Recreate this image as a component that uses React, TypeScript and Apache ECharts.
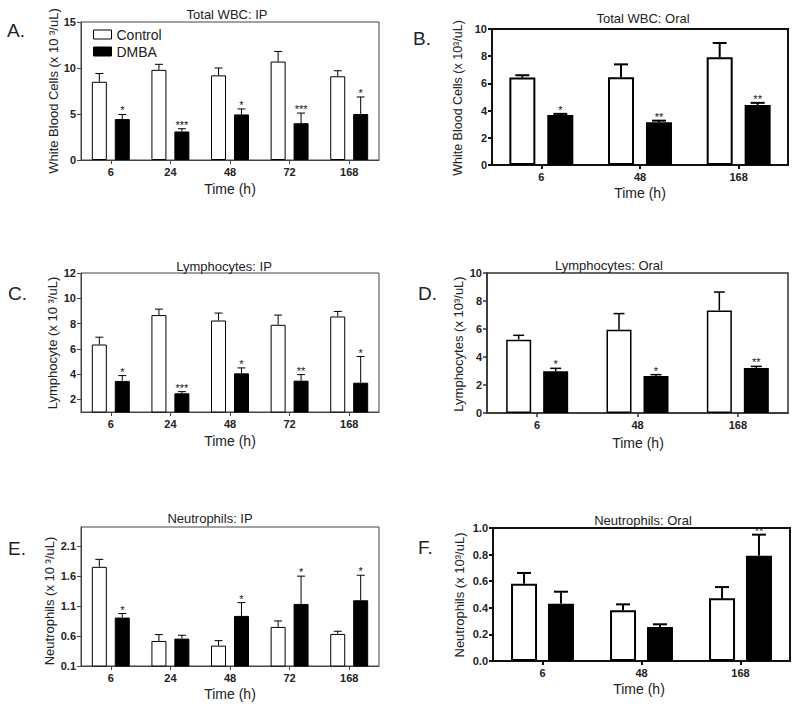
import React, { useEffect, useRef } from 'react';
import * as echarts from 'echarts';

// ---------- categories ----------
const catsIP = ['6', '24', '48', '72', '168'];
const catsOral = ['6', '48', '168'];

// ---------- A. Total WBC: IP ----------
const wbcIpControl = [8.5, 9.8, 9.2, 10.7, 9.1];
const wbcIpControlErr = [9.4, 10.4, 10.0, 11.8, 9.7];
const wbcIpDmba = [4.45, 3.1, 4.95, 4.0, 5.0];
const wbcIpDmbaErr = [4.95, 3.4, 5.55, 5.1, 6.85];
const wbcIpStars = ['*', '***', '*', '***', '*'];
const wbcIpTicks = [0, 5, 10, 15];

// ---------- B. Total WBC: Oral ----------
const wbcOralControl = [6.43, 6.46, 7.93];
const wbcOralControlErr = [6.6, 7.4, 8.97];
const wbcOralDmba = [3.68, 3.14, 4.42];
const wbcOralDmbaErr = [3.76, 3.26, 4.57];
const wbcOralStars = ['*', '**', '**'];
const wbcOralTicks = [0, 2, 4, 6, 8, 10];

// ---------- C. Lymphocytes: IP ----------
const lymIpControl = [6.34, 8.67, 8.24, 7.9, 8.56];
const lymIpControlErr = [6.92, 9.14, 8.83, 8.67, 8.96];
const lymIpDmba = [3.46, 2.48, 4.06, 3.48, 3.32];
const lymIpDmbaErr = [3.88, 2.61, 4.49, 3.96, 5.39];
const lymIpStars = ['*', '***', '*', '**', '*'];
const lymIpTicks = [2, 4, 6, 8, 10, 12];

// ---------- D. Lymphocytes: Oral ----------
const lymOralControl = [5.24, 5.95, 7.33];
const lymOralControlErr = [5.55, 7.1, 8.64];
const lymOralDmba = [2.98, 2.64, 3.21];
const lymOralDmbaErr = [3.19, 2.74, 3.33];
const lymOralStars = ['*', '*', '**'];
const lymOralTicks = [0, 2, 4, 6, 8, 10];

// ---------- E. Neutrophils: IP ----------
const neuIpControl = [1.755, 0.518, 0.44, 0.752, 0.635];
const neuIpControlErr = [1.88, 0.624, 0.523, 0.852, 0.68];
const neuIpDmba = [0.908, 0.557, 0.936, 1.136, 1.197];
const neuIpDmbaErr = [0.975, 0.613, 1.158, 1.6, 1.615];
const neuIpStars = ['*', '', '*', '*', '*'];
const neuIpTicks = [0.1, 0.6, 1.1, 1.6, 2.1];

// ---------- F. Neutrophils: Oral ----------
const neuOralControl = [0.581, 0.381, 0.471];
const neuOralControlErr = [0.662, 0.426, 0.556];
const neuOralDmba = [0.431, 0.256, 0.792];
const neuOralDmbaErr = [0.521, 0.276, 0.95];
const neuOralStars = ['', '', '**'];
const neuOralTicks = [0, 0.2, 0.4, 0.6, 0.8, 1.0];

const FONT = '"Liberation Sans", Arial, Helvetica, sans-serif';
const TXT = '#222';

interface Panel {
  letter: string;
  title: string;
  yName: string;
  cats: string[];
  control: number[];
  controlErr: number[];
  dmba: number[];
  dmbaErr: number[];
  stars: string[];
  ticks: number[];
  yMin: number;
  yMax: number;
  decimals: number;
  grid: { left: number; top: number; width: number; height: number };
  barWidth: number;
  gapPct: number;
  capW: number;
  barBorder: number;
  errLW: number;
  boxColor: string;
  boxW: number;
  titlePos: [number, number];
  letterPos: [number, number];
  yLabPos: [number, number];
  yLabSize: number;
  xLabPos: [number, number];
}

const thin = { barWidth: 15, gapPct: 0.53, capW: 8, barBorder: 1, errLW: 1, boxColor: '#444', boxW: 1 };

const panels: Panel[] = [
  {
    letter: 'A.', title: 'Total WBC: IP', yName: 'White Blood Cells (x 10 \u00B3/uL)',
    cats: catsIP, control: wbcIpControl, controlErr: wbcIpControlErr, dmba: wbcIpDmba, dmbaErr: wbcIpDmbaErr,
    stars: wbcIpStars, ticks: wbcIpTicks, yMin: 0, yMax: 15, decimals: 0,
    grid: { left: 81, top: 22, width: 298, height: 138 }, ...thin,
    titlePos: [227, 14.5], letterPos: [7, 30], yLabPos: [53, 91], yLabSize: 13, xLabPos: [230, 188.5],
  },
  {
    letter: 'B.', title: 'Total WBC: Oral', yName: 'White Blood Cells (x 10\u00B3/uL)',
    cats: catsOral, control: wbcOralControl, controlErr: wbcOralControlErr, dmba: wbcOralDmba, dmbaErr: wbcOralDmbaErr,
    stars: wbcOralStars, ticks: wbcOralTicks, yMin: 0, yMax: 10, decimals: 0,
    grid: { left: 492, top: 29, width: 296, height: 136 },
    barWidth: 26, gapPct: 0.46, capW: 14, barBorder: 2, errLW: 2, boxColor: '#111', boxW: 2,
    titlePos: [643, 18], letterPos: [413, 38], yLabPos: [458, 98], yLabSize: 12.5, xLabPos: [640, 193],
  },
  {
    letter: 'C.', title: 'Lymphocytes: IP', yName: 'Lymphocyte (x 10 \u00B3/uL)',
    cats: catsIP, control: lymIpControl, controlErr: lymIpControlErr, dmba: lymIpDmba, dmbaErr: lymIpDmbaErr,
    stars: lymIpStars, ticks: lymIpTicks, yMin: 1, yMax: 12, decimals: 0,
    grid: { left: 81, top: 273, width: 298, height: 139 }, ...thin,
    titlePos: [224, 266], letterPos: [8, 293], yLabPos: [52, 343], yLabSize: 13, xLabPos: [230, 440.5],
  },
  {
    letter: 'D.', title: 'Lymphocytes: Oral', yName: 'Lymphocytes (x 10\u00B3/uL)',
    cats: catsOral, control: lymOralControl, controlErr: lymOralControlErr, dmba: lymOralDmba, dmbaErr: lymOralDmbaErr,
    stars: lymOralStars, ticks: lymOralTicks, yMin: 0, yMax: 10, decimals: 0,
    grid: { left: 487, top: 273, width: 301, height: 140 },
    barWidth: 25, gapPct: 0.48, capW: 11, barBorder: 1.5, errLW: 1.5, boxColor: '#333', boxW: 1.5,
    titlePos: [609, 265], letterPos: [418, 293], yLabPos: [458, 344], yLabSize: 13, xLabPos: [638, 443],
  },
  {
    letter: 'E.', title: 'Neutrophils: IP', yName: 'Neutrophils (x 10 \u00B3/uL)',
    cats: catsIP, control: neuIpControl, controlErr: neuIpControlErr, dmba: neuIpDmba, dmbaErr: neuIpDmbaErr,
    stars: neuIpStars, ticks: neuIpTicks, yMin: 0.1, yMax: 2.42, decimals: 1,
    grid: { left: 81, top: 527, width: 298, height: 139 }, ...thin,
    titlePos: [210, 518], letterPos: [8, 548], yLabPos: [49, 601], yLabSize: 13, xLabPos: [230, 694],
  },
  {
    letter: 'F.', title: 'Neutrophils: Oral', yName: 'Neutrophils (x 10\u00B3/uL)',
    cats: catsOral, control: neuOralControl, controlErr: neuOralControlErr, dmba: neuOralDmba, dmbaErr: neuOralDmbaErr,
    stars: neuOralStars, ticks: neuOralTicks, yMin: 0, yMax: 1, decimals: 1,
    grid: { left: 493, top: 528, width: 297, height: 133 },
    barWidth: 26, gapPct: 0.42, capW: 14, barBorder: 2, errLW: 2, boxColor: '#111', boxW: 2,
    titlePos: [643, 520], letterPos: [418, 547], yLabPos: [459, 595], yLabSize: 13, xLabPos: [639, 688.5],
  },
];

function buildOption() {
  const grids: any[] = [];
  const xAxes: any[] = [];
  const yAxes: any[] = [];
  const series: any[] = [];
  const graphics: any[] = [];

  panels.forEach((p, k) => {
    grids.push({
      ...p.grid,
      show: true,
      borderColor: p.boxColor,
      borderWidth: p.boxW,
      backgroundColor: 'rgba(0,0,0,0)',
      containLabel: false,
      outerBoundsMode: 'none',
    });
    xAxes.push({
      type: 'category',
      gridIndex: k,
      data: p.cats,
      boundaryGap: true,
      axisLine: { show: true, lineStyle: { color: p.boxColor, width: p.boxW } },
      axisTick: { show: true, alignWithLabel: true, length: 4, lineStyle: { color: p.boxColor, width: p.boxW } },
      axisLabel: { fontFamily: FONT, fontSize: 11, fontWeight: 'bold', color: TXT, margin: 6 },
      splitLine: { show: false },
    });
    yAxes.push({
      type: 'value',
      gridIndex: k,
      min: p.yMin,
      max: p.yMax,
      axisLine: { show: true, lineStyle: { color: p.boxColor, width: p.boxW } },
      axisTick: { show: true, length: 4, customValues: p.ticks, lineStyle: { color: p.boxColor, width: p.boxW } },
      axisLabel: {
        fontFamily: FONT, fontSize: 11, fontWeight: 'bold', color: TXT, margin: 5,
        customValues: p.ticks,
        formatter: (v: number) => v.toFixed(p.decimals),
      },
      splitLine: { show: false },
    });

    series.push({
      type: 'bar',
      name: 'Control',
      xAxisIndex: k,
      yAxisIndex: k,
      data: p.control,
      barWidth: p.barWidth,
      barGap: Math.round(p.gapPct * 100) + '%',
      itemStyle: { color: '#fff', borderColor: '#000', borderWidth: p.barBorder },
      clip: true,
      z: 2,
    });
    series.push({
      type: 'bar',
      name: 'DMBA',
      xAxisIndex: k,
      yAxisIndex: k,
      data: p.dmba,
      barWidth: p.barWidth,
      itemStyle: { color: '#000', borderColor: '#000', borderWidth: p.barBorder },
      clip: true,
      z: 2,
    });

    const offset = (p.barWidth + p.barWidth * p.gapPct) / 2;
    const mkErr = (vals: number[], errs: number[], sign: number) => ({
      type: 'custom',
      xAxisIndex: k,
      yAxisIndex: k,
      z: 5,
      silent: true,
      encode: { x: 0, y: [1, 2] },
      data: vals.map((v, i) => [i, v, errs[i]]),
      renderItem: (_params: any, api: any) => {
        const i = api.value(0);
        const base = api.coord([i, api.value(1)]);
        const top = api.coord([i, api.value(2)]);
        const x = base[0] + sign * offset;
        return {
          type: 'group',
          children: [
            { type: 'line', shape: { x1: x, y1: base[1], x2: x, y2: top[1] }, style: { stroke: '#000', lineWidth: p.errLW } },
            { type: 'line', shape: { x1: x - p.capW / 2, y1: top[1], x2: x + p.capW / 2, y2: top[1] }, style: { stroke: '#000', lineWidth: p.errLW } },
          ],
        };
      },
    });
    series.push(mkErr(p.control, p.controlErr, -1));
    series.push(mkErr(p.dmba, p.dmbaErr, 1));

    // significance stars above DMBA error bars
    series.push({
      type: 'scatter',
      xAxisIndex: k,
      yAxisIndex: k,
      z: 6,
      silent: true,
      symbol: 'circle',
      symbolSize: 1,
      itemStyle: { color: 'rgba(0,0,0,0)' },
      data: p.dmbaErr.map((e, i) => [i, e]),
      label: {
        show: true,
        position: 'top',
        distance: -2,
        offset: [offset, 0],
        fontFamily: FONT,
        fontSize: 11,
        color: '#111',
        opacity: 1,
        formatter: (d: any) => p.stars[d.dataIndex] || '',
      },
    });

    const txt = (x: number, y: number, text: string, size: number, align: string, rot = 0) => ({
      type: 'text', x, y, rotation: rot,
      style: { text, font: size + 'px ' + FONT, fill: TXT, align, verticalAlign: 'middle' },
    });
    graphics.push(txt(p.titlePos[0], p.titlePos[1], p.title, 13, 'center'));
    graphics.push(txt(p.letterPos[0], p.letterPos[1], p.letter, 19, 'left'));
    graphics.push(txt(p.yLabPos[0], p.yLabPos[1], p.yName, p.yLabSize, 'center', Math.PI / 2));
    graphics.push(txt(p.xLabPos[0], p.xLabPos[1], 'Time (h)', 14, 'center'));
  });

  return {
    animation: false,
    backgroundColor: '#fff',
    legend: {
      data: [
        { name: 'Control', itemStyle: { color: '#fff', borderColor: '#000', borderWidth: 1 } },
        { name: 'DMBA', itemStyle: { color: '#000', borderColor: '#000', borderWidth: 1 } },
      ],
      orient: 'vertical',
      left: 93,
      top: 27.5,
      padding: 0,
      itemWidth: 18,
      itemHeight: 9,
      itemGap: 3,
      icon: 'rect',
      selectedMode: false,
      textStyle: { fontFamily: FONT, fontSize: 14, color: TXT },
    },
    grid: grids,
    xAxis: xAxes,
    yAxis: yAxes,
    series,
    graphic: graphics,
  };
}

export default function App() {
  const ref = useRef<HTMLDivElement>(null);
  useEffect(() => {
    if (!ref.current) return;
    const chart = echarts.init(ref.current, undefined, { renderer: 'svg' });
    chart.setOption(buildOption() as any);
    return () => chart.dispose();
  }, []);
  return (
    <div
      ref={ref}
      style={{ position: 'absolute', left: 0, top: 0, width: 800, height: 707, background: '#fff' }}
    />
  );
}
